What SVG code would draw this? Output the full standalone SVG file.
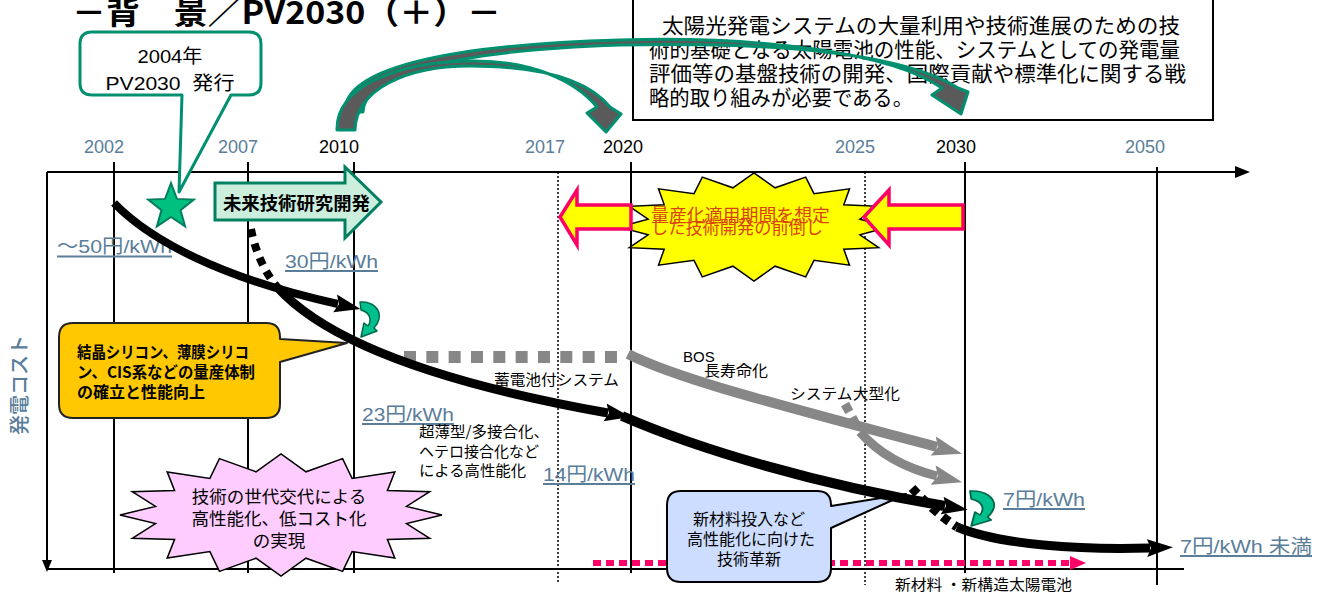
<svg xmlns="http://www.w3.org/2000/svg" width="1322" height="596" viewBox="0 0 1322 596">
<style>
.jp{font-family:'Noto Sans CJK JP','Liberation Sans',sans-serif;}
.num{font-family:'Liberation Sans','Noto Sans CJK JP',sans-serif;}
.yr{font-family:'Liberation Sans',sans-serif;font-size:18px;text-anchor:middle;fill:#5A7D9A;}
.yrk{fill:#000;}
.grid{stroke:#000;stroke-width:2;fill:none;}
.dot{stroke:#000;stroke-width:1.5;stroke-dasharray:2 2;fill:none;}
.cost{font-family:'Liberation Sans','Noto Sans CJK JP',sans-serif;font-size:19px;fill:#5A7D9A;}
.ul{stroke:#5A7D9A;stroke-width:2;}
.curveK{fill:none;stroke:#000;stroke-linecap:butt;}
.curveG{fill:none;stroke:#878787;stroke-linecap:butt;}
.lbl{font-family:'Noto Sans CJK JP','Liberation Sans',sans-serif;font-size:15px;fill:#000;}
.hook{fill:#00C090;stroke:#006848;stroke-width:1.5;stroke-linejoin:round;}
.arc{fill:#5A5A5A;stroke:#009070;stroke-width:3;stroke-linejoin:round;}
.warn{fill:#FFFF00;stroke:#FF0066;stroke-width:3.5;stroke-linejoin:miter;}
</style>
<defs>
<marker id="ahK" markerUnits="userSpaceOnUse" markerWidth="26" markerHeight="20" viewBox="0 0 26 20" refX="3" refY="10" orient="auto"><path d="M0,1 L26,10 L0,19 L4,10 Z" fill="#000"/></marker>
<marker id="ahG" markerUnits="userSpaceOnUse" markerWidth="30" markerHeight="20" viewBox="0 0 30 20" refX="4" refY="10" orient="auto"><path d="M0,0 L30,10 L0,20 L5,10 Z" fill="#878787"/></marker>
</defs>
<rect width="1322" height="596" fill="#fff"/>

<g id="title">
<text class="jp" x="72" y="24" font-size="32" font-weight="bold" textLength="429" lengthAdjust="spacingAndGlyphs">－背　景／PV2030（＋）－</text>
</g>

<g id="axes">
<line class="grid" x1="47" y1="172" x2="1236" y2="172"/>
<polygon points="1235,166 1250,172 1235,178" fill="#000"/>
<line class="grid" x1="47" y1="172" x2="47" y2="562"/>
<polygon points="42,560 52,560 47,572" fill="#000"/>
<line class="grid" x1="47" y1="569" x2="1184" y2="569"/>
<line class="grid" x1="114" y1="162" x2="114" y2="573"/>
<line class="grid" x1="248" y1="162" x2="248" y2="573"/>
<line class="grid" x1="354" y1="162" x2="354" y2="573"/>
<line class="dot" x1="558" y1="172" x2="558" y2="582"/>
<line class="grid" x1="631" y1="162" x2="631" y2="573"/>
<line class="dot" x1="865" y1="172" x2="865" y2="585"/>
<line class="grid" x1="965" y1="162" x2="965" y2="573" stroke-width="2.5"/>
<line class="grid" x1="1157" y1="167" x2="1157" y2="585"/>
<text class="jp" transform="translate(27,385) rotate(-90)" font-size="20" font-weight="500" fill="#5A7D9A" text-anchor="middle">発電コスト</text>
</g>

<g id="years">
<text class="yr" x="104" y="153">2002</text>
<text class="yr" x="238" y="153">2007</text>
<text class="yr yrk" x="339" y="153">2010</text>
<text class="yr" x="545" y="153">2017</text>
<text class="yr yrk" x="623" y="153">2020</text>
<text class="yr" x="855" y="153">2025</text>
<text class="yr yrk" x="956" y="153">2030</text>
<text class="yr" x="1145" y="153">2050</text>
</g>

<g id="new-material-bar">
<line x1="593" y1="563" x2="1070" y2="563" stroke="#FF0066" stroke-width="6" stroke-dasharray="8 5"/>
<polygon points="1070,556 1086,563 1070,570" fill="#FF0066"/>
<text class="lbl" x="895" y="590" textLength="177" lengthAdjust="spacingAndGlyphs">新材料 ・新構造太陽電池</text>
</g>

<g id="info-box">
<rect x="633" y="-2" width="580" height="122" fill="#fff" stroke="#000" stroke-width="2"/>
<g class="jp" font-size="21" fill="#000">
<text x="662" y="33" textLength="518" lengthAdjust="spacingAndGlyphs">太陽光発電システムの大量利用や技術進展のための技</text>
<text x="649" y="57" textLength="531" lengthAdjust="spacingAndGlyphs">術的基礎となる太陽電池の性能、システムとしての発電量</text>
<text x="649" y="81" textLength="537" lengthAdjust="spacingAndGlyphs">評価等の基盤技術の開発、国際貢献や標準化に関する戦</text>
<text x="649" y="105" textLength="264" lengthAdjust="spacingAndGlyphs">略的取り組みが必要である。</text>
</g>
</g>

<g id="pv2030-callout">
<path d="M92 32 H249 Q261 32 261 44 V83 Q261 95 249 95 H231 L179 192 L182 95 H92 Q80 95 80 83 V44 Q80 32 92 32 Z" fill="#fff" stroke="#009070" stroke-width="3" stroke-linejoin="round"/>
<text class="num" x="170" y="63" font-size="19" text-anchor="middle" textLength="65" lengthAdjust="spacingAndGlyphs">2004年</text>
<text class="num" x="170" y="90" font-size="19" text-anchor="middle" textLength="129" lengthAdjust="spacingAndGlyphs">PV2030&#160;&#160;発行</text>
</g>

<g id="star">
<polygon points="171,183 176.9,198.9 193.8,199.6 180.5,210.1 185.1,226.4 171,217 156.9,226.4 161.5,210.1 148.2,199.6 165.1,198.9" fill="#00C080" stroke="#008060" stroke-width="2" stroke-linejoin="miter"/>
</g>

<g id="future-rd">
<polygon points="215,183 345,183 345,167 381,202 345,238 345,220 215,220" fill="#CCEEDD" stroke="#008060" stroke-width="3"/>
<text class="jp" x="223" y="210" font-size="18" font-weight="bold" textLength="147" lengthAdjust="spacingAndGlyphs">未来技術研究開発</text>
</g>

<g id="front-loading">
<polygon points="889,227 859.9,219.2 878.7,206.3 843.8,204.8 849.5,188.8 814,193.7 805.7,177.1 775.1,187.8 754,173 732.9,187.8 702.3,177.1 694,193.7 658.5,188.8 664.2,204.8 629.3,206.3 648.1,219.2 619,227 648.1,234.8 629.3,247.7 664.2,249.2 658.5,265.2 694,260.3 702.3,276.9 732.9,266.2 754,281 775.1,266.2 805.7,276.9 814,260.3 849.5,265.2 843.8,249.2 878.7,247.7 859.9,234.8" fill="#FFFF00" stroke="#000" stroke-width="1.5"/>
<polygon class="warn" points="560,217 577,190 577,205 631,205 631,229 577,229 577,245"/>
<polygon class="warn" points="864,217 889,190 889,205 963,205 963,229 889,229 889,245"/>
<text class="jp" x="651" y="222" font-size="18" fill="#D9430F" textLength="179" lengthAdjust="spacingAndGlyphs">量産化適用期間を想定</text>
<text class="jp" x="651" y="234" font-size="18" fill="#D9430F" textLength="172" lengthAdjust="spacingAndGlyphs">した技術開発の前倒し</text>
</g>

<g id="mass-production-callout">
<path d="M73 323 H266 Q280 323 280 337 V339 L347 343 L280 362 V404 Q280 418 266 418 H73 Q59 418 59 404 V337 Q59 323 73 323 Z" fill="#FFC800" stroke="#222" stroke-width="2" stroke-linejoin="round"/>
<g class="jp" font-size="16" font-weight="bold" fill="#000">
<text x="77" y="358" textLength="172" lengthAdjust="spacingAndGlyphs">結晶シリコン、薄膜シリコ</text>
<text x="77" y="378" textLength="178" lengthAdjust="spacingAndGlyphs">ン、CIS系などの量産体制</text>
<text x="77" y="398">の確立と性能向上</text>
</g>
</g>

<g id="generation-burst">
<polygon points="442,515 406.5,506.4 429.7,491.7 387.4,490.6 394.8,471.9 352.1,478.4 342.6,458.6 306,471.8 281,454 256,471.8 219.4,458.6 209.9,478.4 167.2,471.9 174.6,490.6 132.3,491.7 155.5,506.4 120,515 155.5,523.6 132.3,538.3 174.6,539.4 167.2,558.1 209.9,551.6 219.4,571.4 256,558.2 281,576 306,558.2 342.6,571.4 352.1,551.6 394.8,558.1 387.4,539.4 429.7,538.3 406.5,523.6" fill="#FFCCFF" stroke="#000" stroke-width="1.5"/>
<g class="jp" font-size="17.5" fill="#000" text-anchor="middle">
<text x="279" y="503">技術の世代交代による</text>
<text x="279" y="525">高性能化、低コスト化</text>
<text x="279" y="547">の実現</text>
</g>
</g>

<g id="innovation-callout">
<path d="M681 491 H817 Q831 491 831 505 V506 L906 494 L831 528 V568 Q831 582 817 582 H681 Q667 582 667 568 V505 Q667 491 681 491 Z" fill="#CCDDFF" stroke="#000" stroke-width="2" stroke-linejoin="round"/>
<g class="jp" font-size="16" fill="#000" text-anchor="middle">
<text x="749" y="525">新材料投入など</text>
<text x="751" y="545">高性能化に向けた</text>
<text x="749" y="565">技術革新</text>
</g>
</g>

<g id="cost-labels">
<text class="cost" x="57" y="253" textLength="115" lengthAdjust="spacingAndGlyphs">～50円/kWh</text>
<line class="ul" x1="57" y1="256.5" x2="172" y2="256.5"/>
<text class="cost" x="285" y="268" textLength="93" lengthAdjust="spacingAndGlyphs">30円/kWh</text>
<line class="ul" x1="285" y1="271" x2="378" y2="271"/>
<text class="cost" x="362" y="421" textLength="92" lengthAdjust="spacingAndGlyphs">23円/kWh</text>
<line class="ul" x1="362" y1="424" x2="454" y2="424"/>
<text class="cost" x="543" y="481" textLength="92" lengthAdjust="spacingAndGlyphs">14円/kWh</text>
<line class="ul" x1="543" y1="484" x2="635" y2="484"/>
<text class="cost" x="1003" y="506" textLength="82" lengthAdjust="spacingAndGlyphs">7円/kWh</text>
<line class="ul" x1="1003" y1="509" x2="1085" y2="509"/>
<text class="cost" x="1180" y="553" textLength="132" lengthAdjust="spacingAndGlyphs">7円/kWh 未満</text>
<line class="ul" x1="1180" y1="556" x2="1312" y2="556"/>
</g>

<g id="curve-labels">
<text class="lbl" x="494" y="385" font-size="15.5" textLength="125" lengthAdjust="spacingAndGlyphs">蓄電池付システム</text>
<text class="num" x="683" y="362" font-size="15">BOS</text>
<text class="lbl" x="704" y="376" font-size="16" textLength="64" lengthAdjust="spacingAndGlyphs">長寿命化</text>
<text class="lbl" x="790" y="399" font-size="16" textLength="110" lengthAdjust="spacingAndGlyphs">システム大型化</text>
<text class="lbl" x="419" y="437" font-size="15.5" textLength="130" lengthAdjust="spacingAndGlyphs">超薄型/多接合化、</text>
<text class="lbl" x="419" y="457" font-size="15.5" textLength="120" lengthAdjust="spacingAndGlyphs">ヘテロ接合化など</text>
<text class="lbl" x="419" y="476" font-size="15.5" textLength="107" lengthAdjust="spacingAndGlyphs">による高性能化</text>
</g>

<g id="connectors">
<line x1="404" y1="357" x2="617" y2="357" stroke="#878787" stroke-width="12" stroke-dasharray="12 10.33"/>
<path class="curveG" d="M628 354 C680 380 780 405 937 447" stroke-width="10" marker-end="url(#ahG)"/>
<path d="M845 404 L859 430" fill="none" stroke="#878787" stroke-width="9" stroke-dasharray="9 6"/>
<path class="curveG" d="M860 432 C880 455 905 468 937 476" stroke-width="9" marker-end="url(#ahG)"/>
<path class="curveK" d="M114 203 C150 240 220 278 338 304" stroke-width="8" marker-end="url(#ahK)"/>
<path class="curveK" d="M251 229 C255 250 264 272 278 288" stroke-width="8" stroke-dasharray="8 7"/>
<path class="curveK" d="M278 288 C330 345 450 385 608 413" stroke-width="9" marker-end="url(#ahK)"/>
<path class="curveK" d="M622 416 C700 450 820 485 945 506" stroke-width="10" marker-end="url(#ahK)"/>
<path class="curveK" d="M912 488 C925 502 940 516 957 527" stroke-width="9" stroke-dasharray="8 6"/>
<path class="curveK" d="M957 527 C1000 545 1080 550 1150 548" stroke-width="9" marker-end="url(#ahK)"/>
<path class="arc" d="M345 112 C343 70 440 45 620 40 C760 36 890 52 942 88 L932 95 L961 114 L968 92 L958 88 C900 52 770 42 620 45 C470 50 365 70 363 112 Z"/>
<path class="arc" d="M337 130 C336 85 400 62 470 61 C530 60 575 80 597 107 L587 113 L606 132 L621 114 L610 107 C588 80 540 66 470 66 C405 66 356 90 355 130 Z"/>
</g>

<g id="hook-2010">
<path class="hook" transform="translate(360,302)" d="M0 0 C12 -1 21 7 19 17 C18 21 16 24 14 26 L17 29 L1 35 L4 21 L8 24 C11 20 12 11 1 8 Z"/>
</g>
<g id="hook-2030">
<path class="hook" transform="translate(970,491) scale(1.25,1)" d="M0 0 C12 -1 21 7 19 17 C18 21 16 24 14 26 L17 29 L1 35 L4 21 L8 24 C11 20 12 11 1 8 Z"/>
</g>
</svg>
